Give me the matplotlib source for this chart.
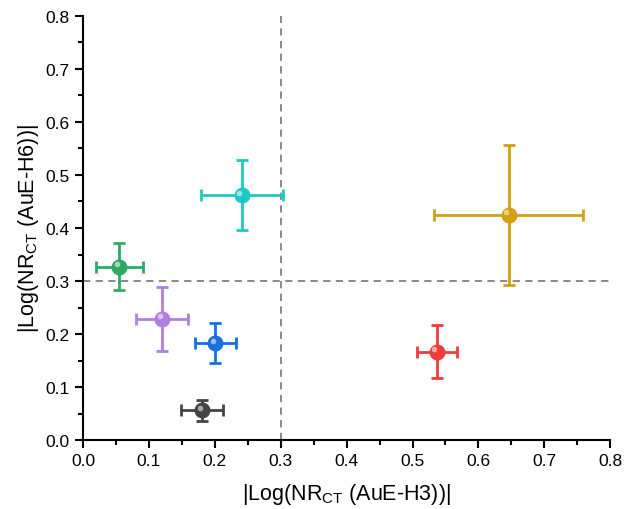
import matplotlib.pyplot as plt
from matplotlib.ticker import MultipleLocator
from matplotlib.transforms import ScaledTranslation

plt.rcParams['font.family'] = ['Liberation Sans', 'DejaVu Sans']

# |Log(NR_CT)| for H3 (x) and H6 (y), with error half-widths
x_vals = [0.055, 0.120, 0.201, 0.181, 0.241, 0.537, 0.646]
y_vals = [0.327, 0.229, 0.183, 0.056, 0.462, 0.167, 0.425]
x_err = [0.036, 0.039, 0.031, 0.032, 0.062, 0.030, 0.113]
y_err = [0.044, 0.060, 0.037, 0.019, 0.066, 0.050, 0.132]
colors = ['#2EAA66', '#B07FE0', '#1A6FDF', '#444444', '#1FC8C8', '#EE3B3B', '#D4A010']

threshold = 0.3

fig = plt.figure(figsize=(6.24, 5.10), dpi=100)
ax = fig.add_axes([0.133, 0.135, 0.845, 0.832])

ax.axvline(threshold, color='#808080', ls=(0, (4, 3)), lw=1.3, zorder=1)
ax.axhline(threshold, color='#808080', ls=(0, (4, 3)), lw=1.3, zorder=1)

# small highlight offset to fake the shaded sphere look
hl = ax.transData + ScaledTranslation(-0.025, 0.025, fig.dpi_scale_trans)

for x, y, xe, ye, c in zip(x_vals, y_vals, x_err, y_err, colors):
    ax.errorbar(x, y, xerr=xe, yerr=ye, fmt='o', color=c, ms=10.5,
                mec=c, elinewidth=2, capsize=4.5, capthick=2, zorder=3)
    ax.plot(x, y, 'o', color='white', ms=4, alpha=0.55, mec='none',
            transform=hl, zorder=4)

ax.set_xlim(0, 0.8)
ax.set_ylim(0, 0.8)
ax.xaxis.set_major_locator(MultipleLocator(0.1))
ax.yaxis.set_major_locator(MultipleLocator(0.1))
ax.xaxis.set_minor_locator(MultipleLocator(0.05))
ax.yaxis.set_minor_locator(MultipleLocator(0.05))
ax.xaxis.set_major_formatter(lambda v, p: f'{v:.1f}')
ax.yaxis.set_major_formatter(lambda v, p: f'{v:.1f}')

for side in ['top', 'right']:
    ax.spines[side].set_visible(False)
for side in ['left', 'bottom']:
    ax.spines[side].set_linewidth(1.5)

ax.tick_params(which='major', direction='out', length=6, width=1.5, labelsize=12.5)
ax.tick_params(which='minor', direction='out', length=3.5, width=1.5)

ax.set_xlabel(r'|Log(NR$_{\mathregular{CT}}$ (AuE-H3))|', fontsize=15.5, labelpad=9)
ax.set_ylabel(r'|Log(NR$_{\mathregular{CT}}$ (AuE-H6))|', fontsize=15.5, labelpad=3)

fig.savefig('out.png', dpi=100)
